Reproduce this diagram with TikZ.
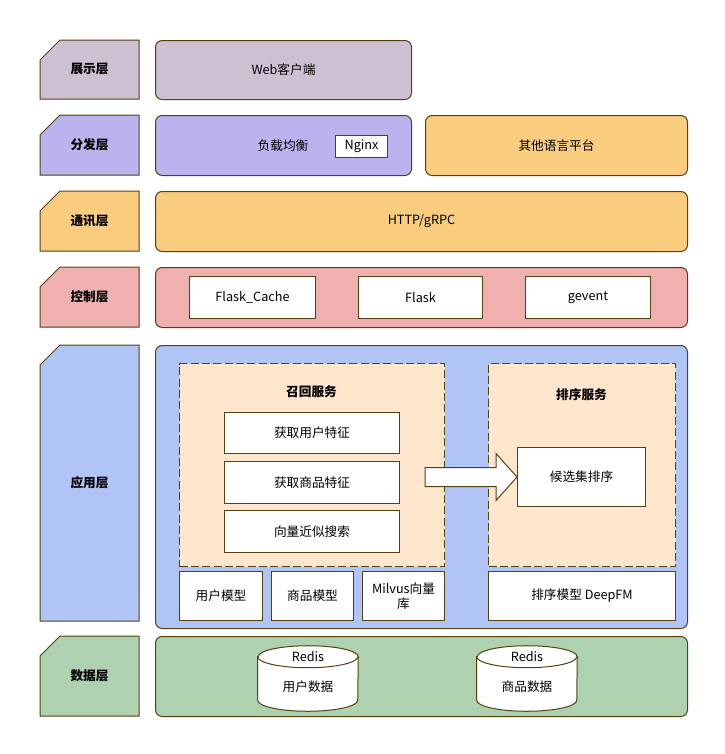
\documentclass[tikz,border=0pt]{standalone}
\usepackage{fontspec}
\setmainfont{Noto Sans CJK SC}
\usepackage{tikz}
\usetikzlibrary{positioning,calc}
\definecolor{edge}{RGB}{84,64,16}
\definecolor{cshow}{RGB}{205,192,211}
\definecolor{cdist}{RGB}{187,179,237}
\definecolor{ccomm}{RGB}{250,205,126}
\definecolor{cctrl}{RGB}{240,176,176}
\definecolor{capp}{RGB}{176,196,246}
\definecolor{cdata}{RGB}{174,210,176}
\definecolor{csvc}{RGB}{255,230,204}
% #1 name, #2 top, #3 bottom, #4 fill, #5 text
\newcommand{\tierlabel}[5]{%
  \draw[tier,fill=#4] (60,#2) -- (139,#2) -- (139,#3) -- (40,#3) -- (40,#2+20) -- cycle;
  \node[tiertxt] (#1) at (89.5,{(#2+#3)/2}) {#5};}
% cylinder round node #1
\newcommand{\drum}[1]{%
  \draw[tier,fill=white] ($(#1.north west)+(0,11)$) -- ($(#1.south west)+(0,-11)$)
    arc[start angle=180,end angle=360,x radius=37.5pt,y radius=8.25pt]
    -- ($(#1.north east)+(0,11)$)
    arc[start angle=0,end angle=180,x radius=37.5pt,y radius=8.25pt] -- cycle;
  \draw[tier] ($(#1.north west)+(0,11)$)
    arc[start angle=180,end angle=360,x radius=37.5pt,y radius=8.25pt];}

\begin{document}
\begin{tikzpicture}[x=0.75pt,y=-0.75pt,
  font=\fontsize{9.5}{11}\selectfont,
  tier/.style={draw=edge,line width=0.75pt},
  tiertxt/.style={font=\fontsize{9.5}{11}\selectfont\bfseries,inner sep=0pt},
  panel/.style 2 args={draw=edge,line width=0.75pt,rounded corners=5pt,anchor=north west,
    minimum width=#1*0.75pt,minimum height=#2*0.75pt,inner sep=0pt},
  cell/.style 2 args={draw=edge,line width=0.75pt,fill=white,anchor=north west,
    minimum width=#1*0.75pt,minimum height=#2*0.75pt,inner sep=0pt,align=center},
  svc/.style 2 args={draw=edge,line width=0.75pt,dash pattern=on 6pt off 2.5pt,fill=csvc,
    anchor=north west,minimum width=#1*0.75pt,minimum height=#2*0.75pt,inner sep=0pt},
  db/.style={minimum width=75pt,minimum height=48.75pt,inner sep=0pt},
  bigarrow/.style={draw=edge,line width=0.75pt,fill=white,line join=miter}]
\useasboundingbox (0,0) rectangle (725,754);
%
\tierlabel{show}{40}{99}{cshow}{展示层}
\tierlabel{dist}{115}{175}{cdist}{分发层}
\tierlabel{comm}{191}{251}{ccomm}{通讯层}
\tierlabel{ctrl}{267}{327}{cctrl}{控制层}
\tierlabel{app}{345}{621}{capp}{应用层}
\tierlabel{data}{636}{716}{cdata}{数据层}
%
\node[panel={256}{59},fill=cshow] (web) at (155,40) {Web客户端};
\node[panel={256}{60},fill=cdist] (lb) at (155,115) {};
\node at (283,146) (lbtxt) {负载均衡};
\node[cell={52}{22}] (nginx) at (335,135) {Nginx};
\node[panel={262}{60},fill=ccomm] (other) at (425,115) {其他语言平台};
\node[panel={532}{60},fill=ccomm] (rpc) at (155,191) {HTTP/gRPC};
\node[panel={532}{60},fill=cctrl] (ctl) at (155,267) {};
\node[cell={126}{42}] (cache) at (189,276) {Flask\_Cache};
\node[cell={124}{42}] (flask) at (358,276) {Flask};
\node[cell={125}{42}] (gevent) at (525,276) {gevent};
%
\node[panel={532}{283},fill=capp] (appl) at (155,345) {};
\node[svc={265}{203}] (recall) at (179,363) {};
\node[tiertxt] (recallT) at (311.5,392) {召回服务};
\node[cell={175}{41}] (ufeat) at (224,412) {获取用户特征};
\node[cell={175}{42}] (ifeat) at (224,461) {获取商品特征};
\node[cell={175}{42}] (ann) at (224,510) {向量近似搜索};
\node[cell={83}{49}] (umodel) at (179,571) {用户模型};
\node[cell={82}{49}] (imodel) at (271,571) {商品模型};
\node[cell={82}{49}] (milvus) at (362,571) {Milvus向量\\库};
\node[svc={187}{203}] (rank) at (488,363) {};
\node[tiertxt] (rankT) at (581.5,395) {排序服务};
\node[cell={128}{59}] (cand) at (517,447) {候选集排序};
\node[cell={187}{49}] (deepfm) at (488,571) {排序模型 DeepFM};
\draw[bigarrow] ($(cand.west)+(-92,-9.5)$) -- ++(71,0) -- ++(0,-14) -- (cand.west)
  -- ++(-21,23.5) -- ++(0,-14) -- ++(-71,0) -- cycle;
%
\node[panel={532}{80},fill=cdata] (store) at (155,636) {};
\node[db] (udata) at (308,678.5) {};
\drum{udata}
\node (uredis) at ($(udata.north)+(0,11)$) {Redis};
\node (utxt) at (308,687) {用户数据};
\node[db] (idata) at (527,678.5) {};
\drum{idata}
\node (iredis) at ($(idata.north)+(0,11)$) {Redis};
\node (itxt) at (527,687) {商品数据};
\end{tikzpicture}
\end{document}
